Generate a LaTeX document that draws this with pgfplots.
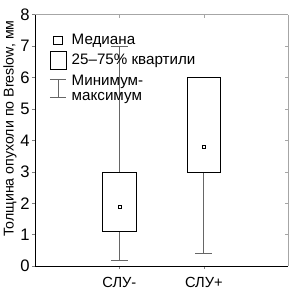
\documentclass[border=0pt]{standalone}
\usepackage{fontspec}
\setmainfont{Liberation Sans}
\usepackage{pgfplots}
\pgfplotsset{compat=1.18}
\usepgfplotslibrary{statistics}
\begin{document}
\begin{tikzpicture}
\begin{axis}[name=ax, scale only axis, width=258bp, height=256bp,
  xmin=0, xmax=3, ymin=0, ymax=8,
  axis x line*=bottom, axis y line*=left,
  axis line style={black, line width=0.8pt, -},
  xtick={1,2}, xticklabels={СЛУ-,СЛУ+},
  ytick={0,...,8},
  tick align=outside, major tick length=3bp,
  tick style={gray, line width=0.6pt},
  /pgf/number format/assume math mode=true,
  yticklabel style={font=\fontsize{17}{17}\selectfont, xshift=1bp},
  xticklabel style={font=\fontsize{15}{15}\selectfont, yshift=-5bp},
  ylabel={Толщина опухоли по Breslow, мм},
  every axis y label/.append style={at={(ticklabel cs:0.547)}},
  ylabel style={font=\fontsize{14.5}{15}\selectfont, yshift=-3bp},
  clip=false,
  legend style={at={(0.045,0.94)}, anchor=north west, draw=none, fill=none,
    font=\fontsize{15.5}{16}\selectfont, row sep=3.5bp,
    cells={anchor=west, align=left},
    nodes={inner xsep=5bp}},
  legend cell align=left,
  boxplot/draw direction=y,
  boxplot/box extend=0.4,
  boxplot/whisker extend=0.2,
  boxplot/draw/median/.code={},
  boxplot/every whisker/.style={draw=gray!80!black, line width=0.7pt},
  boxplot/every box/.style={draw=black, fill=white, line width=0.7pt},
]
\addlegendimage{legend image code/.code={\draw[black, line width=0.6pt] (4bp,-5bp) rectangle (13bp,4bp);}}
\addlegendentry{Медиана}
\addlegendimage{legend image code/.code={\draw[black, line width=0.6pt] (0bp,-9bp) rectangle (17bp,9bp);}}
\addlegendentry{25–75\% квартили}
\addlegendimage{legend image code/.code={\draw[gray!80!black, line width=0.7pt] (0bp,9bp) -- (17bp,9bp) (8.5bp,9bp) -- (8.5bp,-9bp) (0bp,-9bp) -- (17bp,-9bp);}}
\addlegendentry{Минимум-\\максимум}

\addplot[forget plot, draw=black, fill=white, boxplot prepared={draw position=1, lower whisker=0.2, lower quartile=1.1, median=1.9, upper quartile=3.0, upper whisker=7.0}] coordinates {};
\addplot[forget plot, draw=black, fill=white, boxplot prepared={draw position=2, lower whisker=0.4, lower quartile=3.0, median=3.8, upper quartile=6.0, upper whisker=6.0}] coordinates {};
\addplot[forget plot, only marks, mark=square, mark size=1.6bp, black, mark options={line width=0.5pt}] coordinates {(1,1.9) (2,3.8)};
\end{axis}
\begin{axis}[scale only axis, width=258bp, height=256bp,
  at={(ax.south west)}, anchor=south west,
  xmin=0, xmax=3, ymin=0, ymax=8,
  axis x line*=top, axis y line*=right,
  axis line style={gray!70, line width=1.2pt, -},
  xtick={1,2}, xticklabels={},
  ytick={1,...,7}, yticklabels={},
  tick align=inside, major tick length=3bp,
  tick style={gray!70, line width=0.6pt},
]
\end{axis}
\path (ax.south west) ++(-34bp,-24bp);
\path (ax.north east) ++(3bp,15bp);
\end{tikzpicture}
\end{document}
